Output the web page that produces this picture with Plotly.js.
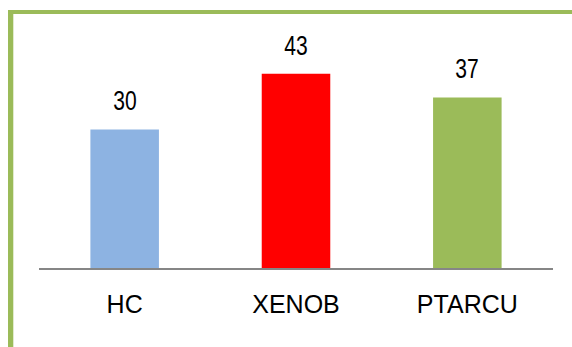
<!DOCTYPE html>
<html>
<head>
<meta charset="utf-8">
<script src="https://cdn.plot.ly/plotly-3.0.1.min.js"></script>
<style>
  html, body { margin: 0; padding: 0; background: #fff; }
  #chart { width: 572px; height: 347px; }
  #chart .annotation-text {
    transform-box: fill-box;
    transform-origin: center;
    transform: scaleX(0.78);
  }
</style>
</head>
<body>
<div id="chart"></div>
<script>
const categories = ['HC', 'XENOB', 'PTARCU'];
const values = [30.4, 42.6, 37.4];
const barColors = ['#8DB3E2', '#FF0000', '#9BBB59'];

const L = 39, R = 19, T = 40, B = 79, W = 572, H = 347;
const pw = W - L - R, ph = H - T - B;
const px = x => (x - L) / pw;
const py = y => (H - B - y) / ph;

const trace = {
  type: 'bar',
  x: categories,
  y: values,
  marker: { color: barColors, line: { width: 0 } },
  hoverinfo: 'none'
};

const annotations = categories.map((c, i) => ({
  x: c, y: values[i], xref: 'x', yref: 'y',
  text: String(Math.round(values[i])),
  showarrow: false, yanchor: 'bottom', yshift: 11,
  font: { family: '"Liberation Sans", Arial, sans-serif', size: 27, color: '#000' }
}));

const border = '#9BBB59';
const shapes = [
  { type: 'rect', xref: 'paper', yref: 'paper', x0: px(8), x1: px(13.3), y0: py(347), y1: py(10), fillcolor: border, line: { width: 0 }, layer: 'below' },
  { type: 'rect', xref: 'paper', yref: 'paper', x0: px(8), x1: px(572), y0: py(14), y1: py(10), fillcolor: border, line: { width: 0 }, layer: 'below' }
];

const layout = {
  width: W, height: H,
  margin: { l: L, r: R, t: T, b: B },
  paper_bgcolor: '#fff', plot_bgcolor: '#fff',
  showlegend: false,
  bargap: 0.6,
  xaxis: {
    showline: true, linecolor: '#868686', linewidth: 2,
    ticks: '', showgrid: false, zeroline: false,
    ticklabelstandoff: 13,
    tickfont: { family: '"Liberation Sans", Arial, sans-serif', size: 25, color: '#000' }
  },
  yaxis: {
    range: [0, 50], visible: false, showgrid: false, zeroline: false, fixedrange: true
  },
  annotations: annotations,
  shapes: shapes
};

Plotly.newPlot('chart', [trace], layout, { displayModeBar: false, staticPlot: true });
</script>
</body>
</html>
